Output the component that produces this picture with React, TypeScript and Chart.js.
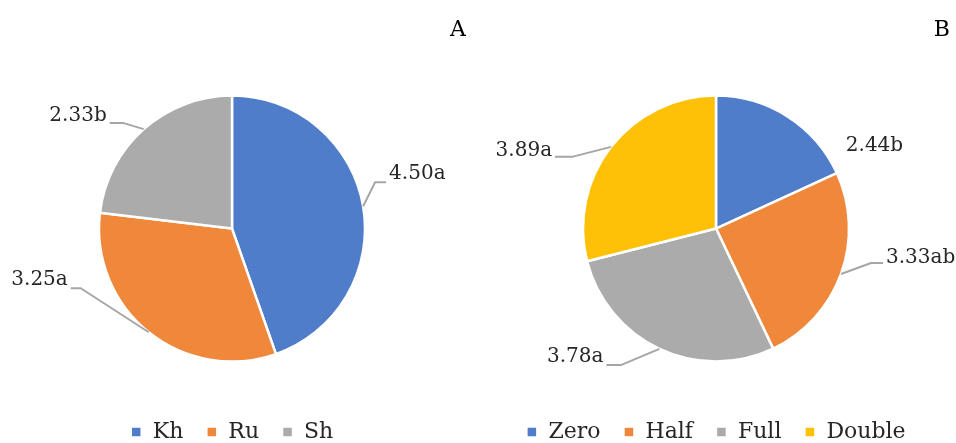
import React, { useEffect, useRef } from "react";
import { Chart, registerables } from "chart.js";

Chart.register(...registerables);

// ---- data ----
const categoriesA = ["Kh", "Ru", "Sh"];
const valuesA = [4.5, 3.25, 2.33];
const lettersA = ["a", "a", "b"];

const categoriesB = ["Zero", "Half", "Full", "Double"];
const valuesB = [2.44, 3.33, 3.78, 3.89];
const lettersB = ["b", "ab", "a", "a"];

const colorsA = ["#4F7DC9", "#EF883B", "#ABABAB"];
const colorsB = ["#4F7DC9", "#EF883B", "#ABABAB", "#FFC107"];

// label leader layout per slice: [elbowDx, elbowDy, horizontal length, text dy, draw line]
const leaderA: [number, number, number, number, boolean][] = [
  [12, -24, 11, -8, true],
  [-68, -44, -10, -8, true],
  [-20, -6, -14, -7, true],
];
const leaderB: [number, number, number, number, boolean][] = [
  [55, 29, 0, 0, false],
  [30, -11, 12, -5, true],
  [-38, 16, -15, -8, true],
  [-39, 10, -17, -6, true],
];

const FONT = "'DejaVu Serif', 'Liberation Serif', serif";

const leaderLabels = {
  id: "leaderLabels",
  afterDatasetsDraw(chart: any, _args: any, opts: any) {
    const { ctx } = chart;
    const meta = chart.getDatasetMeta(0);
    const data = chart.data.datasets[0].data as number[];
    ctx.save();
    ctx.font = opts.font;
    ctx.textBaseline = "middle";
    meta.data.forEach((arc: any, i: number) => {
      const p = arc.getProps(["x", "y", "startAngle", "endAngle", "outerRadius"], true);
      const mid = (p.startAngle + p.endAngle) / 2;
      const ax = p.x + Math.cos(mid) * p.outerRadius;
      const ay = p.y + Math.sin(mid) * p.outerRadius;
      const [ex, ey, h, tdy, line] = opts.layout[i];
      const bx = ax + ex;
      const by = ay + ey;
      const endX = bx + h;
      const dir = h !== 0 ? Math.sign(h) : Math.sign(ex);
      if (line) {
        ctx.strokeStyle = opts.lineColor;
        ctx.lineWidth = 2;
        ctx.lineJoin = "round";
        ctx.beginPath();
        ctx.moveTo(ax, ay);
        ctx.lineTo(bx, by);
        ctx.lineTo(endX, by);
        ctx.stroke();
      }
      const text = data[i].toFixed(2) + opts.letters[i];
      ctx.fillStyle = opts.color;
      ctx.textAlign = dir > 0 ? "left" : "right";
      ctx.fillText(text, endX + dir * 3, by + tdy);
    });
    ctx.restore();
  },
};

function makeConfig(
  title: string,
  labels: string[],
  values: number[],
  colors: string[],
  letters: string[],
  layout: any,
  padRight: number
) {
  return {
    type: "pie" as const,
    data: {
      labels,
      datasets: [
        {
          data: values,
          backgroundColor: colors,
          borderColor: "#ffffff",
          borderWidth: 2.5,
          radius: 133,
        },
      ],
    },
    options: {
      animation: false as const,
      responsive: false,
      devicePixelRatio: 1,
      layout: { padding: { left: 0, right: padRight, top: 0, bottom: 0 } },
      plugins: {
        title: {
          display: true,
          text: title,
          align: "end" as const,
          color: "#000000",
          font: { family: FONT, size: 22, weight: "normal" as const },
          padding: { top: 17, bottom: 15.7 },
        },
        legend: {
          display: true,
          position: "bottom" as const,
          labels: {
            boxWidth: 11,
            boxHeight: 11,
            padding: 23,
            color: "#262626",
            font: { family: FONT, size: 22 },
          },
        },
        tooltip: { enabled: false },
        leaderLabels: {
          font: `20px ${FONT}`,
          color: "#262626",
          lineColor: "#A6A6A6",
          letters,
          layout,
        },
      },
    },
    plugins: [leaderLabels],
  };
}

export default function App() {
  const refA = useRef<HTMLCanvasElement>(null);
  const refB = useRef<HTMLCanvasElement>(null);

  useEffect(() => {
    const a = new Chart(refA.current!, makeConfig("A", categoriesA, valuesA, colorsA, lettersA, leaderA, 0) as any);
    const b = new Chart(refB.current!, makeConfig("B", categoriesB, valuesB, colorsB, lettersB, leaderB, 6) as any);
    return () => {
      a.destroy();
      b.destroy();
    };
  }, []);

  return (
    <div
      style={{
        position: "fixed",
        left: 0,
        top: 0,
        width: 956,
        height: 443,
        overflow: "hidden",
        background: "#ffffff",
      }}
    >
      <canvas ref={refA} width={468} height={453} style={{ position: "absolute", left: -2, top: 0 }} />
      <canvas ref={refB} width={474} height={453} style={{ position: "absolute", left: 482, top: 0 }} />
    </div>
  );
}
